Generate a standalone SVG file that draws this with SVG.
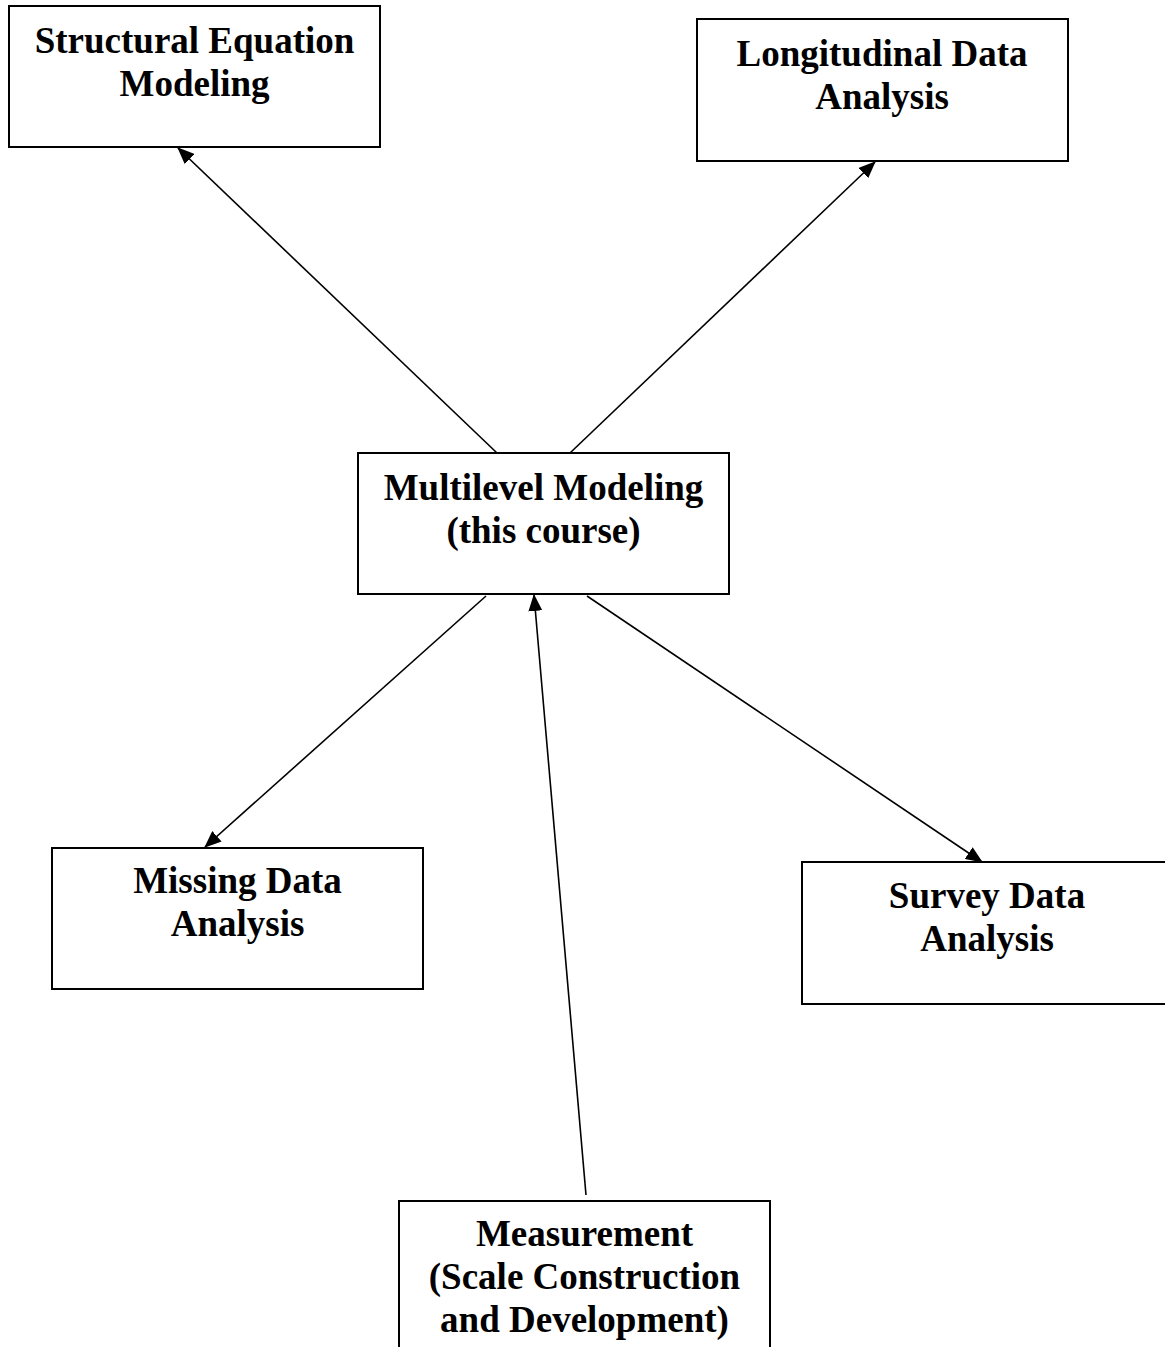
<svg xmlns="http://www.w3.org/2000/svg" width="1165" height="1347" viewBox="0 0 1165 1347">
<style>
.box{fill:#fff;stroke:#000;stroke-width:2}
.lbl{font-family:"Liberation Serif","Times New Roman",serif;font-weight:bold;font-size:37px;fill:#000;text-anchor:middle}
.edge{stroke:#000;stroke-width:1.6;fill:none;marker-end:url(#arr)}
</style>
<defs>
<marker id="arr" markerUnits="userSpaceOnUse" markerWidth="17" markerHeight="14" refX="16" refY="7" orient="auto">
<path d="M0,0 L17,7 L0,14 z" fill="#000"/>
</marker>
</defs>
<rect width="1165" height="1347" fill="#fff"/>
<g id="connectors">
<line class="edge" x1="497" y1="453" x2="178" y2="148"/>
<line class="edge" x1="570" y1="453" x2="875" y2="162"/>
<line class="edge" x1="486" y1="596" x2="205" y2="847"/>
<line class="edge" x1="587" y1="596" x2="982" y2="862"/>
<line class="edge" x1="586" y1="1195" x2="534" y2="595"/>
</g>
<g id="sem">
<rect class="box" x="9" y="6" width="371" height="141"/>
<text class="lbl" x="194.5" y="53">Structural Equation</text>
<text class="lbl" x="194.5" y="96">Modeling</text>
</g>
<g id="longitudinal">
<rect class="box" x="697" y="19" width="371" height="142"/>
<text class="lbl" x="882" y="66">Longitudinal Data</text>
<text class="lbl" x="882" y="109">Analysis</text>
</g>
<g id="multilevel">
<rect class="box" x="358" y="453" width="371" height="141"/>
<text class="lbl" x="543.5" y="500">Multilevel Modeling</text>
<text class="lbl" x="543.5" y="543">(this course)</text>
</g>
<g id="missing">
<rect class="box" x="52" y="848" width="371" height="141"/>
<text class="lbl" x="237.5" y="893">Missing Data</text>
<text class="lbl" x="237.5" y="936">Analysis</text>
</g>
<g id="survey">
<rect class="box" x="802" y="862" width="371" height="142"/>
<text class="lbl" x="987" y="908">Survey Data</text>
<text class="lbl" x="987" y="951">Analysis</text>
</g>
<g id="measurement">
<rect class="box" x="399" y="1201" width="371" height="170"/>
<text class="lbl" x="584.5" y="1246">Measurement</text>
<text class="lbl" x="584.5" y="1289">(Scale Construction</text>
<text class="lbl" x="584.5" y="1332">and Development)</text>
</g>
</svg>
